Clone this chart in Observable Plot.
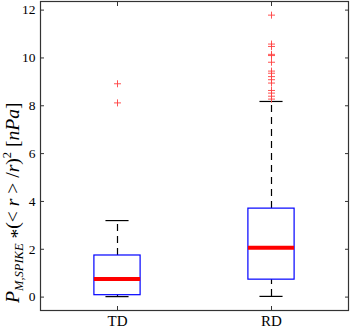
<!DOCTYPE html>
<html>
<head>
<meta charset="utf-8">
<script src="https://cdn.jsdelivr.net/npm/d3@7"></script>
<script src="https://cdn.jsdelivr.net/npm/@observablehq/plot@0.6"></script>
<style>
  html, body { margin: 0; padding: 0; background: #fff; }
  #chart { width: 350px; height: 329px; }
  #chart svg, #chart svg text { font-family: "Liberation Serif", "Times New Roman", "DejaVu Serif", serif !important; }
</style>
</head>
<body>
<div id="chart"></div>
<script>
const categories = ["TD", "RD"];
const whiskerLo = [0.02, 0.03];
const q1 = [0.08, 0.73];
const median = [0.76, 2.06];
const q3 = [1.74, 3.70];
const whiskerHi = [3.2, 8.18];
const outliersTD = [8.92, 8.12];
const outliersRD = [11.79, 10.58, 10.48, 10.15, 10.1, 9.82, 9.45, 9.36, 9.22, 9.09, 8.95, 8.64, 8.53, 8.40, 8.28];
const yTicks = [0, 2, 4, 6, 8, 10, 12];

const stats = categories.map((c, i) => ({
  pos: i + 1, cat: c, lo: whiskerLo[i], q1: q1[i], med: median[i], q3: q3[i], hi: whiskerHi[i]
}));
const outliers = [
  ...outliersTD.map(v => ({pos: 1, v})),
  ...outliersRD.map(v => ({pos: 2, v}))
];

const plusSymbol = {
  draw(context, size) {
    const r = Math.sqrt(size / Math.PI);
    context.moveTo(-r, 0); context.lineTo(r, 0);
    context.moveTo(0, -r); context.lineTo(0, r);
  }
};

const boxHalf = 0.15, capHalf = 0.075;

const plot = Plot.plot({
  width: 350,
  height: 329,
  marginLeft: 40,
  marginRight: 2,
  marginTop: 1,
  marginBottom: 19,
  style: {fontSize: "13.5px", color: "#000", background: "#fff"},
  x: {type: "linear", domain: [0.5, 2.5]},
  y: {type: "linear", domain: [-0.56, 12.36]},
  marks: [
    Plot.ruleX(stats, {x: "pos", y1: "q3", y2: "hi", stroke: "#000", strokeWidth: 1.2, strokeDasharray: "7,5"}),
    Plot.ruleX(stats, {x: "pos", y1: "lo", y2: "q1", stroke: "#000", strokeWidth: 1.2, strokeDasharray: "7,5"}),
    Plot.ruleY(stats, {y: "hi", x1: d => d.pos - capHalf, x2: d => d.pos + capHalf, stroke: "#000", strokeWidth: 1.2}),
    Plot.ruleY(stats, {y: "lo", x1: d => d.pos - capHalf, x2: d => d.pos + capHalf, stroke: "#000", strokeWidth: 1.2}),
    Plot.rect(stats, {x1: d => d.pos - boxHalf, x2: d => d.pos + boxHalf, y1: "q1", y2: "q3", fill: "none", stroke: "#0000ff", strokeWidth: 1.2}),
    Plot.ruleY(stats, {y: "med", x1: d => d.pos - boxHalf, x2: d => d.pos + boxHalf, stroke: "#ff0000", strokeWidth: 4}),
    Plot.dot(outliers, {x: "pos", y: "v", symbol: plusSymbol, r: 3.5, stroke: "#ff4040", strokeWidth: 0.9, fill: "none"}),
    Plot.axisY({anchor: "left", ticks: yTicks, tickSize: -4, tickPadding: 9, label: null, stroke: "#333"}),
    Plot.axisY({anchor: "right", ticks: yTicks, tickSize: -4, tickFormat: () => "", label: null, stroke: "#333"}),
    Plot.axisX({anchor: "bottom", ticks: [1, 2], tickSize: -4, tickPadding: 9, tickFormat: d => categories[d - 1], label: null, stroke: "#333", fontSize: 15}),
    Plot.axisX({anchor: "top", ticks: [1, 2], tickSize: -4, tickFormat: () => "", label: null, stroke: "#333"}),
    Plot.frame({stroke: "#333", strokeWidth: 1.2})
  ]
});

document.getElementById("chart").appendChild(plot);

const svg = d3.select(plot);
const lbl = svg.append("text")
  .attr("transform", "translate(19,303) rotate(-90)")
  .attr("text-anchor", "start")
  .attr("font-size", 19.6)
  .attr("fill", "#000");
lbl.append("tspan").attr("font-style", "italic").text("P");
lbl.append("tspan").attr("font-style", "italic").attr("font-size", 12.5).attr("dy", 4).text("M,SPIKE");
lbl.append("tspan").attr("dy", 1).text(" *");
lbl.append("tspan").attr("dy", -5).text("(< ");
lbl.append("tspan").attr("font-style", "italic").text("r");
lbl.append("tspan").text(" > /");
lbl.append("tspan").attr("font-style", "italic").text("r");
lbl.append("tspan").text(")");
lbl.append("tspan").attr("font-size", 12.5).attr("dy", -8).text("2");
lbl.append("tspan").attr("dy", 8).text(" [");
lbl.append("tspan").attr("font-style", "italic").text("nPa");
lbl.append("tspan").text("]");
</script>
</body>
</html>
